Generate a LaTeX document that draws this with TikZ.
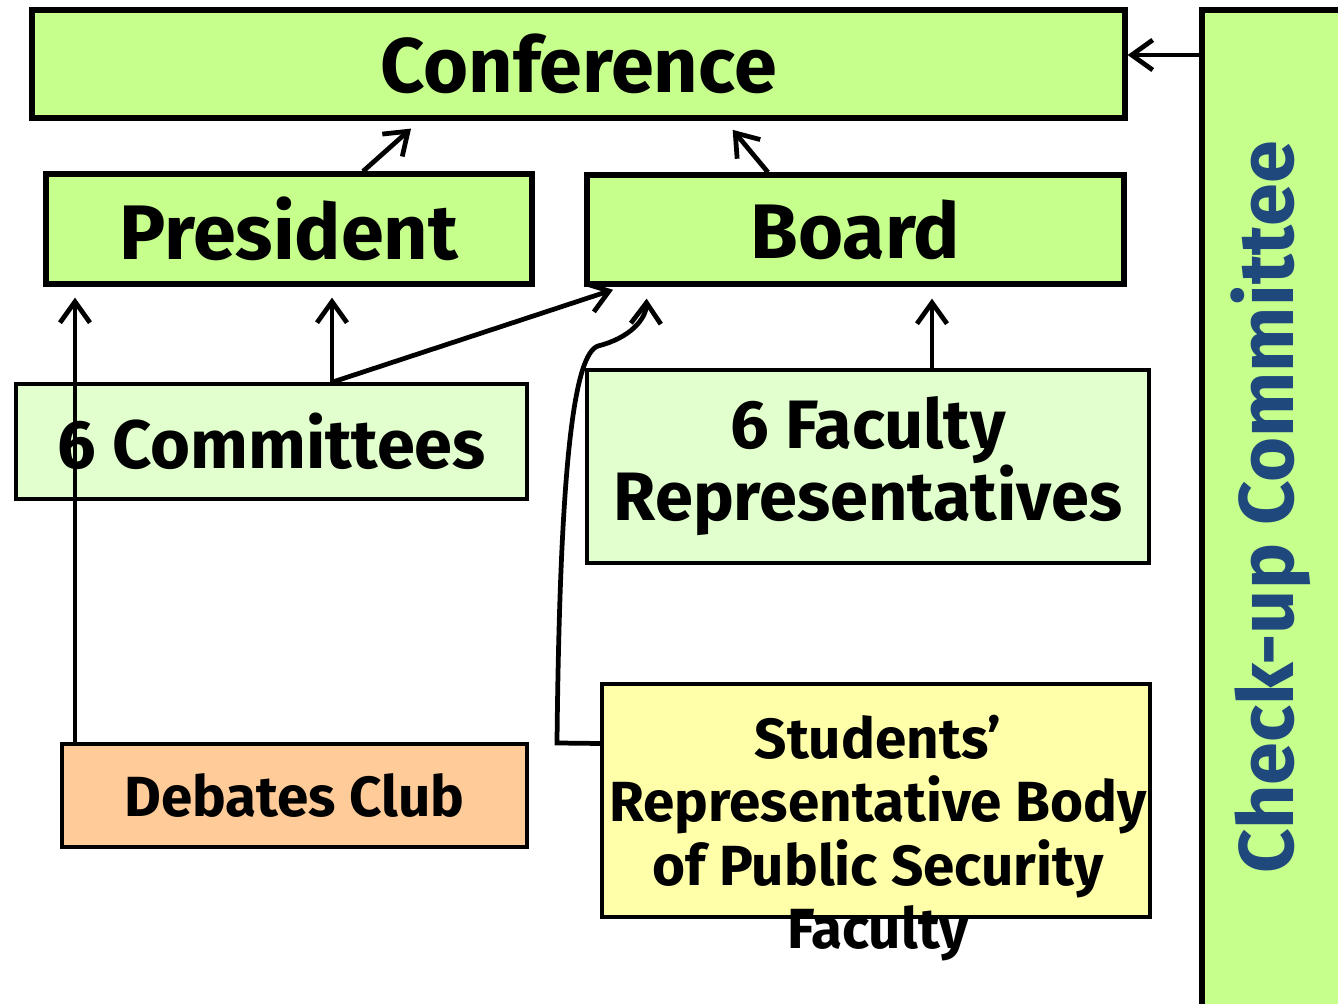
\documentclass[tikz,border=0pt]{standalone}
\usepackage{fontspec}
\setmainfont{Fira Sans}
\usetikzlibrary{arrows.meta,calc}
\definecolor{topgreen}{RGB}{198,255,140}
\definecolor{palegreen}{RGB}{226,255,206}
\definecolor{peach}{RGB}{255,204,153}
\definecolor{paleyellow}{RGB}{255,255,170}
\definecolor{checkblue}{RGB}{31,73,125}

\begin{document}
\begin{tikzpicture}[
    bigbox/.style={draw, line width=1.5pt, fill=topgreen, inner sep=0pt},
    smallbox/.style={draw, line width=1pt, inner sep=0pt},
    arr/.style={-{Straight Barb[length=2.1mm,width=3mm]}, line width=1.35pt},
    bigtxt/.style={font=\bfseries\fontsize{22}{26}\selectfont},
    midtxt/.style={font=\bfseries\fontsize{19.5}{20.5}\selectfont, align=center},
    smalltxt/.style={font=\bfseries\fontsize{16.1}{18}\selectfont, align=center}
  ]
        \clip (0,0) rectangle (13.38,10.04);
        \fill[white] (0,0) rectangle (13.38,10.04);
        % Top boxes
        \node[bigbox, bigtxt, minimum width=10.93cm, minimum height=1.08cm] (conf) at (5.785,9.40) {Conference};
        \node[bigbox, bigtxt, minimum width=4.86cm, minimum height=1.10cm] (pres) at (2.89,7.75) {President};
        \node[bigbox, bigtxt, minimum width=5.37cm, minimum height=1.09cm] (board) at (8.555,7.745) {Board};
        % Check-up box on the right
        \node[bigbox, minimum width=1.98cm, minimum height=10.40cm] (check) at (13.01,4.74) {};
        \node[bigtxt, text=checkblue, rotate=90, anchor=base] (checktxt) at (12.93,4.965) {Check-up Committee};
        % Lower boxes
        \node[smallbox, midtxt, fill=palegreen, minimum width=5.11cm, minimum height=1.15cm] (comm) at (2.715,5.625) {6 Committees};
        \node[smallbox, midtxt, fill=palegreen, minimum width=5.62cm, minimum height=1.93cm] (fac) at (8.68,5.375) {6 Faculty\\Representatives};
        \node[smallbox, smalltxt, fill=peach, minimum width=4.65cm, minimum height=1.03cm] (deb) at (2.945,2.085) {Debates Club};
        \node[smallbox, fill=paleyellow, minimum width=5.48cm, minimum height=2.33cm] (stud) at (8.76,2.035) {};
        \node[smalltxt] (studtxt) at (8.78,1.66) {Students'\\Representative Body\\of Public Security\\Faculty};
        % Arrows
        \coordinate (cmtop) at ([xshift=6.05mm]comm.north);
        \coordinate (dbtop) at ([xshift=-21.95mm]deb.north);
        \coordinate (fctop) at ([xshift=6.4mm]fac.north);
        \coordinate (sdleft) at ([yshift=5.7mm]stud.west);
        \draw[arr, shorten >=1.2mm] ([xshift=7.4mm]pres.north) -- ([xshift=-15.85mm]conf.south);
        \draw[arr, shorten >=1.2mm] ([xshift=-8.75mm]board.north) -- ([xshift=14.65mm]conf.south);
        \draw[arr] ([yshift=0.9mm]conf.east -| check.west) -- ([yshift=0.9mm]conf.east);
        \draw[arr, shorten >=1.1mm] (cmtop) -- (cmtop |- pres.south);
        \draw[arr, shorten >=1mm] (cmtop) -- ([xshift=-23.3mm]board.south);
        \draw[arr, shorten >=1.1mm] (dbtop) -- (dbtop |- pres.south);
        \draw[arr, shorten >=1.2mm] (fctop) -- (fctop |- board.south);
        \draw[arr, shorten >=1.2mm] (sdleft) -- (5.57,2.61)
            .. controls (5.6,5.5) and (5.75,6.5) .. (5.98,6.58)
            .. controls (6.3,6.66) and (6.46,6.85) .. ([xshift=-20.85mm]board.south);
\end{tikzpicture}
\end{document}
